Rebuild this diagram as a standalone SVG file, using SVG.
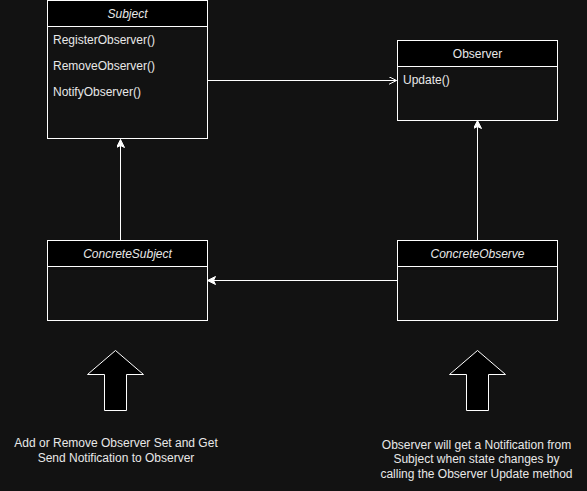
<svg xmlns="http://www.w3.org/2000/svg" width="587" height="491" viewBox="0 0 587 491">
<defs>
<style>
.bg{fill:#121212}
.box{fill:#121212;stroke:#ffffff;stroke-width:1}
.hdr{fill:#000000;stroke:#ffffff;stroke-width:1}
.t{font-family:"Liberation Sans",Arial,sans-serif;font-size:12px;fill:#e8e8e8}
.ti{font-style:italic;text-anchor:middle}
.tc{text-anchor:middle}
.edge{stroke:#ffffff;stroke-width:1;fill:none}
.big{fill:#000000;stroke:#ffffff;stroke-width:1}
</style>
<marker id="block" markerWidth="10" markerHeight="10" refX="8" refY="4" orient="auto" markerUnits="userSpaceOnUse">
<path d="M0,0 L8,4 L0,8 L2,4 Z" fill="#ffffff" stroke="#ffffff" stroke-width="1"/>
</marker>
<marker id="open" markerWidth="10" markerHeight="10" refX="8" refY="4" orient="auto" markerUnits="userSpaceOnUse">
<path d="M0,0 L8,4 L0,8" fill="none" stroke="#ffffff" stroke-width="1"/>
</marker>
</defs>
<rect class="bg" x="0" y="0" width="587" height="491"/>
<g id="connectors">
<path class="edge" d="M207.5,80.5 L396.5,80.5" marker-end="url(#open)"/>
<path class="edge" d="M120.5,240.5 L120.5,139.5" marker-end="url(#block)"/>
<path class="edge" d="M477.5,240.5 L477.5,120.5" marker-end="url(#block)"/>
<path class="edge" d="M397.5,280.5 L207.5,280.5" marker-end="url(#block)"/>
</g>
<g id="subject">
<rect class="box" x="47.5" y="0.5" width="160" height="138"/>
<rect class="hdr" x="47.5" y="0.5" width="160" height="26"/>
<text class="t ti" x="127.5" y="18">Subject</text>
<text class="t" x="53" y="44">RegisterObserver()</text>
<text class="t" x="53" y="70">RemoveObserver()</text>
<text class="t" x="53" y="96">NotifyObserver()</text>
</g>
<g id="observer">
<rect class="box" x="397.5" y="40.5" width="160" height="80"/>
<rect class="hdr" x="397.5" y="40.5" width="160" height="26"/>
<text class="t tc" x="477.5" y="58">Observer</text>
<text class="t" x="403" y="84">Update()</text>
</g>
<g id="concreteSubject">
<rect class="box" x="47.5" y="240.5" width="160" height="80"/>
<rect class="hdr" x="47.5" y="240.5" width="160" height="26"/>
<text class="t ti" x="127.5" y="258">ConcreteSubject</text>
</g>
<g id="concreteObserve">
<rect class="box" x="397.5" y="240.5" width="160" height="80"/>
<rect class="hdr" x="397.5" y="240.5" width="160" height="26"/>
<text class="t ti" x="477.5" y="258">ConcreteObserve</text>
</g>
<g id="leftArrow">
<path class="big" d="M115.5,350.5 L143.5,374.5 L126.5,374.5 L126.5,410.5 L104.5,410.5 L104.5,374.5 L87.5,374.5 Z"/>
</g>
<g id="rightArrow">
<path class="big" d="M477.5,350.5 L505.5,374.5 L488.5,374.5 L488.5,410.5 L466.5,410.5 L466.5,374.5 L449.5,374.5 Z"/>
</g>
<g id="leftNote">
<text class="t tc" x="116" y="447">Add or Remove Observer Set and Get</text>
<text class="t tc" x="116" y="461.5">Send Notification to Observer</text>
</g>
<g id="rightNote">
<text class="t tc" x="476.5" y="449">Observer will get a Notification from</text>
<text class="t tc" x="476.5" y="463.3">Subject when state changes by</text>
<text class="t tc" x="476.5" y="477.7">calling the Observer Update method</text>
</g>
</svg>
